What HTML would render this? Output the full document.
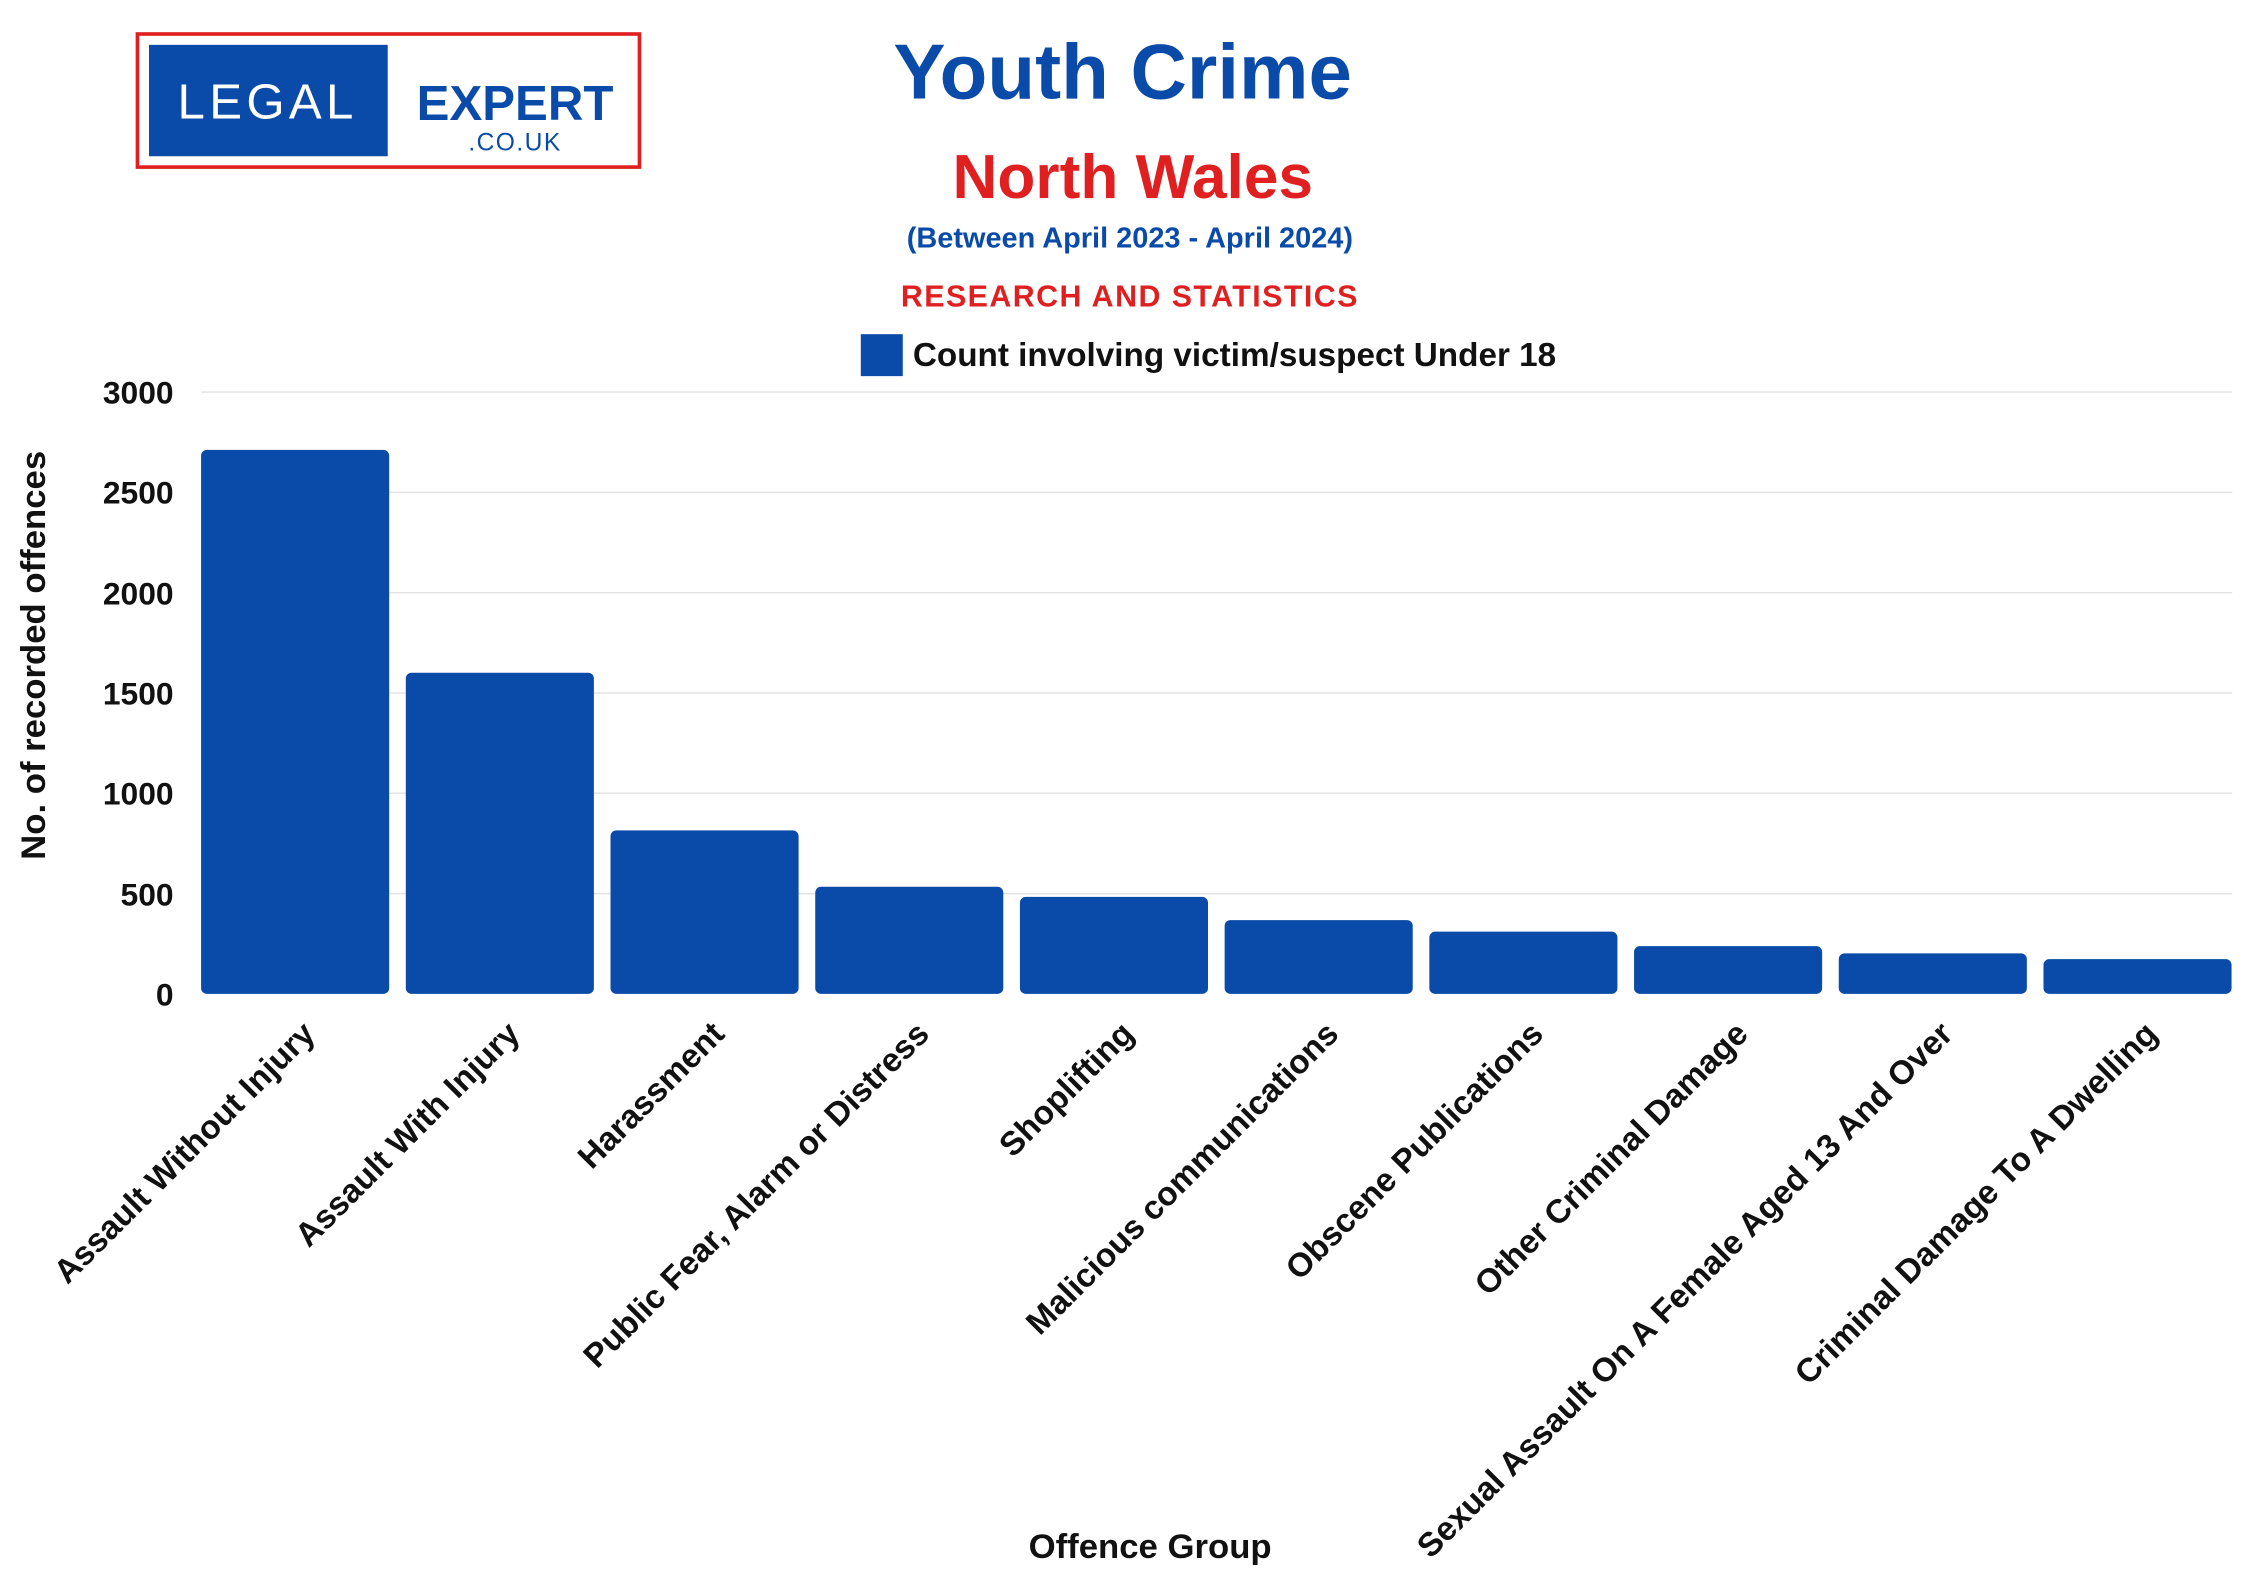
<!DOCTYPE html>
<html><head><meta charset="utf-8"><style>html,body{margin:0;padding:0;background:#fff}svg{display:block}</style></head>
<body>
<svg width="2267" height="1587" viewBox="0 0 1567 1097" preserveAspectRatio="none" xmlns="http://www.w3.org/2000/svg" font-family="Liberation Sans, sans-serif">
<rect width="1567" height="1097" fill="#fff"/>
<!-- logo -->
<rect x="95" y="23.5" width="347" height="92" fill="#fff" stroke="#e02020" stroke-width="2.5"/>
<rect x="103" y="31" width="165" height="77" fill="#0a4aa8"/>
<text x="185" y="82" text-anchor="middle" fill="#fff" font-size="34" letter-spacing="3">LEGAL</text>
<text x="356" y="83" text-anchor="middle" fill="#0a4aa8" font-size="34" font-weight="bold">EXPERT</text>
<text x="356" y="104" text-anchor="middle" fill="#0a4aa8" font-size="17" letter-spacing="1">.CO.UK</text>
<!-- titles -->
<text x="776" y="68" text-anchor="middle" fill="#0a4aa8" font-size="54" font-weight="bold">Youth Crime</text>
<text x="783" y="137" text-anchor="middle" fill="#e02020" font-size="43" font-weight="bold">North Wales</text>
<text x="781" y="171" text-anchor="middle" fill="#0a4aa8" font-size="20" font-weight="bold">(Between April 2023 - April 2024)</text>
<text x="781" y="212" text-anchor="middle" fill="#e02020" font-size="21" font-weight="bold" letter-spacing="1">RESEARCH AND STATISTICS</text>
<rect x="595" y="231" width="29" height="29" fill="#0a4aa8"/>
<text x="631" y="253" fill="#111" font-size="23" font-weight="bold">Count involving victim/suspect Under 18</text>
<!-- grid -->
<g stroke="#e2e2e2" stroke-width="1">
<line x1="139" x2="1543" y1="271" y2="271"/><line x1="139" x2="1543" y1="340.3" y2="340.3"/><line x1="139" x2="1543" y1="409.7" y2="409.7"/><line x1="139" x2="1543" y1="479" y2="479"/><line x1="139" x2="1543" y1="548.3" y2="548.3"/><line x1="139" x2="1543" y1="617.7" y2="617.7"/>
</g>
<g font-size="22" font-weight="bold" fill="#111" text-anchor="end">
<text x="120" y="279">3000</text><text x="120" y="348">2500</text><text x="120" y="418">2000</text><text x="120" y="487">1500</text><text x="120" y="556">1000</text><text x="120" y="626">500</text><text x="120" y="695">0</text>
</g>
<!-- bars -->
<g fill="#0a4aa8">
<rect x="139" y="311" width="130" height="376" rx="4"/>
<rect x="280.5" y="465" width="130" height="222" rx="4"/>
<rect x="422" y="574" width="130" height="113" rx="4"/>
<rect x="563.5" y="613" width="130" height="74" rx="4"/>
<rect x="705" y="620" width="130" height="67" rx="4"/>
<rect x="846.5" y="636" width="130" height="51" rx="4"/>
<rect x="988" y="644" width="130" height="43" rx="4"/>
<rect x="1129.5" y="654" width="130" height="33" rx="4"/>
<rect x="1271" y="659" width="130" height="28" rx="4"/>
<rect x="1412.5" y="663" width="130" height="24" rx="4"/>
</g>
<!-- x labels -->
<g font-size="23" font-weight="bold" fill="#111" text-anchor="end">
<text transform="translate(219,716) rotate(-45)">Assault Without Injury</text>
<text transform="translate(360.5,716) rotate(-45)">Assault With Injury</text>
<text transform="translate(502,716) rotate(-45)">Harassment</text>
<text transform="translate(643.5,716) rotate(-45)">Public Fear, Alarm or Distress</text>
<text transform="translate(785,716) rotate(-45)">Shoplifting</text>
<text transform="translate(926.5,716) rotate(-45)">Malicious communications</text>
<text transform="translate(1068,716) rotate(-45)">Obscene Publications</text>
<text transform="translate(1209.5,716) rotate(-45)">Other Criminal Damage</text>
<text transform="translate(1351,716) rotate(-45)">Sexual Assault On A Female Aged 13 And Over</text>
<text transform="translate(1492.5,716) rotate(-45)">Criminal Damage To A Dwelling</text>
</g>
<text transform="translate(31,453) rotate(-90)" text-anchor="middle" font-size="24" font-weight="bold" fill="#111">No. of recorded offences</text>
<text x="795" y="1077" text-anchor="middle" font-size="24" font-weight="bold" fill="#111">Offence Group</text>
</svg>
</body></html>
